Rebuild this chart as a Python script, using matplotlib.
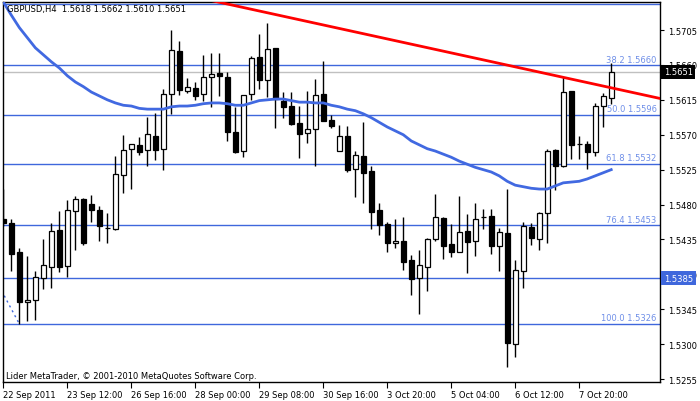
import matplotlib
matplotlib.use("Agg")
import matplotlib.pyplot as plt
import matplotlib.transforms as mtransforms
import numpy as np

# --- GBPUSD H4 bars ---
opens = [1.5462, 1.5456, 1.5419, 1.5354, 1.5357, 1.5385, 1.5400, 1.5447, 1.5401, 1.5472,
         1.5487, 1.5481, 1.5473, 1.5450, 1.5449, 1.5518, 1.5551, 1.5557, 1.5550, 1.5569,
         1.5551, 1.5623, 1.5678, 1.5627, 1.5630, 1.5622, 1.5645, 1.5650, 1.5645, 1.5573,
         1.5549, 1.5622, 1.5670, 1.5641, 1.5682, 1.5613, 1.5607, 1.5585, 1.5572, 1.5577,
         1.5623, 1.5589, 1.5549, 1.5568, 1.5526, 1.5543, 1.5523, 1.5473, 1.5455, 1.5430,
         1.5433, 1.5409, 1.5385, 1.5400, 1.5436, 1.5463, 1.5429, 1.5419, 1.5446, 1.5433,
         1.5464, 1.5465, 1.5427, 1.5443, 1.5300, 1.5394, 1.5451, 1.5435, 1.5469, 1.5550,
         1.5530, 1.5627, 1.5558, 1.5558, 1.5548, 1.5607, 1.5618]
highs = [1.5500, 1.5462, 1.5424, 1.5414, 1.5395, 1.5435, 1.5456, 1.5472, 1.5486, 1.5491,
         1.5489, 1.5492, 1.5478, 1.5469, 1.5542, 1.5570, 1.5558, 1.5567, 1.5593, 1.5598,
         1.5629, 1.5705, 1.5691, 1.5643, 1.5638, 1.5673, 1.5676, 1.5675, 1.5651, 1.5606,
         1.5621, 1.5672, 1.5700, 1.5714, 1.5682, 1.5625, 1.5625, 1.5607, 1.5626, 1.5642,
         1.5665, 1.5595, 1.5583, 1.5581, 1.5549, 1.5586, 1.5530, 1.5482, 1.5458, 1.5461,
         1.5464, 1.5415, 1.5421, 1.5437, 1.5494, 1.5464, 1.5455, 1.5491, 1.5468, 1.5482,
         1.5474, 1.5474, 1.5450, 1.5500, 1.5409, 1.5458, 1.5456, 1.5471, 1.5552, 1.5552,
         1.5644, 1.5627, 1.5569, 1.5562, 1.5611, 1.5624, 1.5662]
lows = [1.5452, 1.5395, 1.5326, 1.5330, 1.5331, 1.5371, 1.5373, 1.5393, 1.5386, 1.5422,
        1.5428, 1.5458, 1.5433, 1.5431, 1.5447, 1.5495, 1.5500, 1.5544, 1.5530, 1.5538,
        1.5525, 1.5597, 1.5621, 1.5624, 1.5615, 1.5614, 1.5606, 1.5620, 1.5562, 1.5546,
        1.5541, 1.5615, 1.5629, 1.5619, 1.5579, 1.5592, 1.5583, 1.5540, 1.5560, 1.5530,
        1.5588, 1.5579, 1.5549, 1.5522, 1.5490, 1.5482, 1.5449, 1.5441, 1.5419, 1.5424,
        1.5396, 1.5363, 1.5339, 1.5369, 1.5433, 1.5410, 1.5412, 1.5419, 1.5392, 1.5414,
        1.5448, 1.5416, 1.5394, 1.5270, 1.5284, 1.5372, 1.5428, 1.5422, 1.5430, 1.5499,
        1.5528, 1.5539, 1.5539, 1.5526, 1.5543, 1.5580, 1.5610]
closes = [1.5456, 1.5416, 1.5354, 1.5357, 1.5386, 1.5402, 1.5446, 1.5400, 1.5473, 1.5487,
          1.5431, 1.5473, 1.5452, 1.5450, 1.5519, 1.5550, 1.5558, 1.5548, 1.5571, 1.5550,
          1.5622, 1.5679, 1.5628, 1.5631, 1.5620, 1.5644, 1.5648, 1.5646, 1.5574, 1.5548,
          1.5621, 1.5669, 1.5641, 1.5680, 1.5616, 1.5606, 1.5584, 1.5571, 1.5578, 1.5621,
          1.5588, 1.5581, 1.5569, 1.5525, 1.5544, 1.5521, 1.5471, 1.5454, 1.5431, 1.5433,
          1.5406, 1.5384, 1.5402, 1.5436, 1.5464, 1.5427, 1.5419, 1.5444, 1.5432, 1.5462,
          1.5464, 1.5426, 1.5444, 1.5301, 1.5396, 1.5452, 1.5437, 1.5469, 1.5549, 1.5530,
          1.5625, 1.5557, 1.5558, 1.5548, 1.5607, 1.5620, 1.5651]
moving_avg = [1.5741, 1.5724, 1.5708, 1.5695, 1.5682, 1.5673, 1.5664, 1.5656, 1.5646, 1.5638,
              1.5632, 1.5625, 1.5620, 1.5615, 1.5611, 1.5608, 1.5607, 1.5604, 1.5603, 1.5603,
              1.5603, 1.5606, 1.5607, 1.5607, 1.5608, 1.5610, 1.5611, 1.5611, 1.5610, 1.5608,
              1.5608, 1.5611, 1.5614, 1.5615, 1.5616, 1.5616, 1.5614, 1.5612, 1.5612, 1.5611,
              1.5611, 1.5608, 1.5606, 1.5603, 1.5601, 1.5597, 1.5592, 1.5586, 1.5580, 1.5575,
              1.5570, 1.5562, 1.5557, 1.5552, 1.5549, 1.5545, 1.5541, 1.5536, 1.5532, 1.5528,
              1.5525, 1.5522, 1.5517, 1.5510, 1.5505, 1.5503, 1.5501, 1.5500, 1.5500, 1.5504,
              1.5508, 1.5509, 1.5510, 1.5513, 1.5517, 1.5521, 1.5525]

time_labels = ["22 Sep 2011", "23 Sep 12:00", "26 Sep 16:00", "28 Sep 00:00", "29 Sep 08:00",
               "30 Sep 16:00", "3 Oct 20:00", "5 Oct 04:00", "6 Oct 12:00", "7 Oct 20:00"]
bars_per_label = 8
price_ticks = [1.5705, 1.5660, 1.5615, 1.5570, 1.5525, 1.5480, 1.5435, 1.5390, 1.5345, 1.5300, 1.5255]

# fibonacci retracement anchors
fib_high, fib_high_bar = 1.5866, -26
fib_low, fib_low_bar = 1.5326, 2
fib_ratios = [23.6, 38.2, 50.0, 61.8, 76.4, 100.0]

# trend line anchors and other levels
trend_bars = [30, 70]
trend_prices = [1.5734, 1.5644]
hline_price = 1.5385
bid_price = 1.5651

BLUE = "#3f67dc"
LABEL_BLUE = "#6f8fe8"

fig = plt.figure(figsize=(7, 4.02), dpi=100)
ax = fig.add_axes([3 / 700, 19 / 402, 657 / 700, 380 / 402])
ax.set_xlim(-0.05, 82.1)
ax.set_ylim(1.52513, 1.57411)

# --- levels ---
for r in fib_ratios:
    lvl = fib_high - r / 100 * (fib_high - fib_low)
    ax.axhline(lvl, color=BLUE, lw=1, zorder=1)
    if lvl < 1.5725:
        ax.text(0.995, lvl + 0.0002, f"{r:.1f} {lvl:.4f}", transform=ax.get_yaxis_transform(),
                ha="right", va="bottom", fontsize=6, color=LABEL_BLUE)
ax.plot([fib_high_bar, fib_low_bar], [fib_high, fib_low], color=BLUE, lw=1,
        ls=(0, (1.5, 2.5)), zorder=1)
ax.axhline(hline_price, color=BLUE, lw=1, zorder=1)
ax.axhline(bid_price, color="#c0c0c0", lw=1, zorder=1)

# --- candles ---
x = np.arange(len(opens))
o, h, l, c = map(np.array, (opens, highs, lows, closes))
up = c >= o
ax.vlines(x, l, h, color="black", lw=1, zorder=2)
ax.bar(x[up], (c - o)[up], bottom=o[up], width=0.58, facecolor="white",
       edgecolor="black", lw=0.9, zorder=3)
ax.bar(x[~up], (c - o)[~up], bottom=o[~up], width=0.58, facecolor="black",
       edgecolor="black", lw=0.9, zorder=3)

# --- moving average and trend line ---
ax.plot(x, moving_avg, color="#4169e1", lw=2, zorder=4)
slope = (trend_prices[1] - trend_prices[0]) / (trend_bars[1] - trend_bars[0])
tx = np.array([20, 83])
ax.plot(tx, trend_prices[0] + slope * (tx - trend_bars[0]), color="red", lw=2, zorder=5)

# --- axes styling ---
for s in ax.spines.values():
    s.set_color("black")
    s.set_linewidth(1)
ax.yaxis.tick_right()
ax.set_yticks(price_ticks)
ax.set_yticklabels([f"{p:.4f}" for p in price_ticks])
ax.set_xticks(np.arange(len(time_labels)) * bars_per_label)
ax.set_xticklabels(time_labels)
for t in ax.get_xticklabels():
    t.set_horizontalalignment("left")
ax.tick_params(axis="y", length=3, width=0.8, pad=3, labelsize=6, colors="black")
ax.tick_params(axis="x", length=4, width=0.8, pad=2, labelsize=6, colors="black")

# price tags on the axis (they cover the tick label underneath, as in the terminal)
tag_tr = mtransforms.blended_transform_factory(ax.transAxes, ax.transData)
ax.text(1.006, bid_price, f"{bid_price:.4f}", transform=tag_tr, ha="left", va="center",
        fontsize=6, color="white", clip_on=False, zorder=10,
        bbox=dict(boxstyle="square,pad=0.3", fc="black", ec="none"))
ax.text(1.006, hline_price, f"{hline_price:.4f}", transform=tag_tr, ha="left", va="center",
        fontsize=6, color="white", clip_on=False, zorder=10,
        bbox=dict(boxstyle="square,pad=0.3", fc=BLUE, ec="none"))

# header and footer
ax.text(0.006, 0.982, f"GBPUSD,H4  {opens[-1]:.4f} {highs[-1]:.4f} {lows[-1]:.4f} {closes[-1]:.4f}",
        transform=ax.transAxes, ha="left", va="center", fontsize=6, color="black", zorder=10)
ax.text(0.004, 0.018, "Lider MetaTrader, \u00a9 2001-2010 MetaQuotes Software Corp.",
        transform=ax.transAxes, ha="left", va="center", fontsize=6, color="black", zorder=10)

fig.savefig("out.png", dpi=100)
